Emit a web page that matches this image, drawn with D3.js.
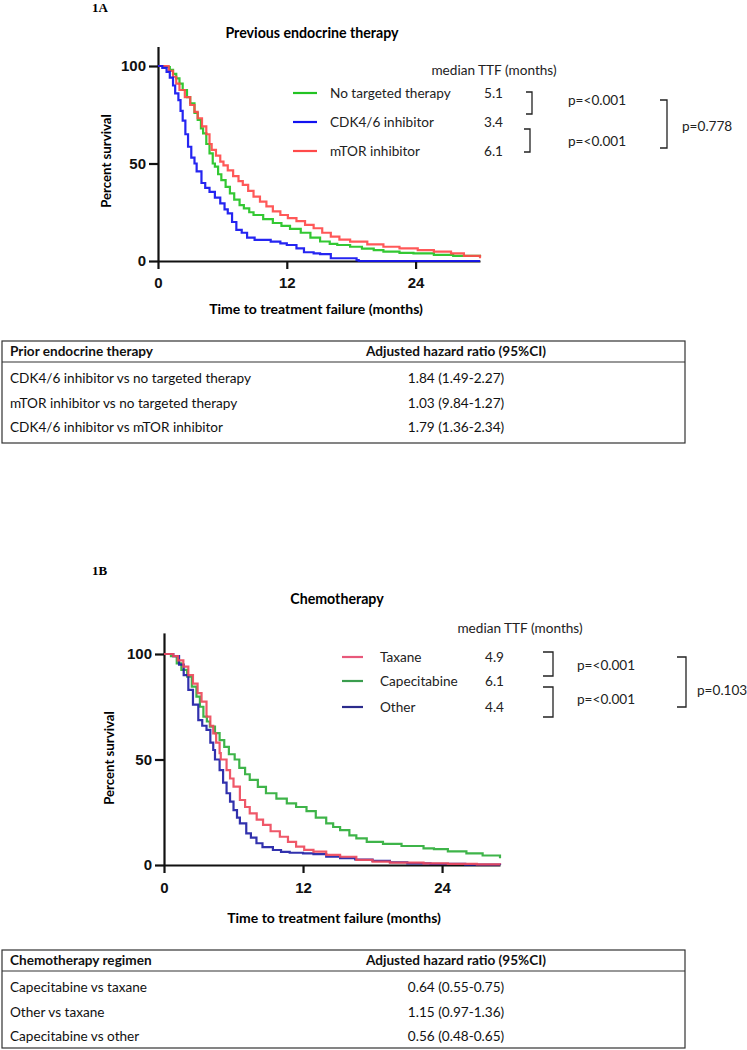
<!DOCTYPE html>
<html>
<head>
<meta charset="utf-8">
<script src="https://cdn.jsdelivr.net/npm/d3@7"></script>
<style>
  body { margin: 0; background: #fff; }
</style>
</head>
<body>
<svg id="fig" width="747" height="1050"></svg>
<script>
var monthTicks = [0, 12, 24];
var pctTicks = [0, 50, 100];

// 1A - time to treatment failure by previous endocrine therapy, [month, % survival]
var noTargeted = [[0,100],[0.5,99.5],[1.1,98],[1.4,96],[1.7,93.7],[2.0,91],[2.3,87.7],[2.7,84],[3.0,80.9],
  [3.4,76],[3.7,72.3],[4.0,68],[4.2,65.5],[4.5,60],[4.8,55.2],[5.1,50],[5.3,48.4],[5.6,44.5],[5.9,41.5],
  [6.3,38],[6.7,34.7],[7.1,31.5],[7.6,28.7],[8.0,27],[8.5,25],[8.9,23.6],[9.8,21.5],[10.7,19.5],[11.5,18],
  [12.3,16.5],[13.3,14.5],[14.2,12],[15.1,10],[16.0,8.8],[16.7,8.2],[17.9,7.3],[19,6.3],[20.1,5.6],[21,4.8],
  [22.5,4.2],[23.8,3.9],[25.7,3.1],[27.5,2.6],[30,2.2]];
var cdkInhibitor = [[0,100],[0.4,99],[0.8,97],[1.1,94],[1.4,90],[1.6,86],[1.9,82.5],[2.1,77],[2.3,72],
  [2.55,65],[2.8,58.6],[3.1,53],[3.4,50],[3.6,46],[4.05,40],[4.4,37.5],[4.8,35.5],[5.3,32.5],[5.8,29.6],
  [6.2,26.5],[6.5,24.4],[6.9,20],[7.3,16],[7.8,14.5],[8.3,12],[9.0,10.8],[10.5,9.9],[11.4,9],[12.0,8.2],
  [12.9,6.5],[13.6,4.5],[14.5,3.9],[15.1,3.5],[16.1,1.4],[18.5,0.5],[18.7,0],[30,0]];
var mtorInhibitor = [[0,100],[0.6,100],[1.0,97.5],[1.4,94.5],[1.7,91],[2.0,87.7],[2.5,84],[3.0,80],[3.4,76.5],
  [3.7,73.2],[4.1,69],[4.5,65],[4.8,60],[5.0,57],[5.4,54],[5.8,51],[6.1,49],[6.5,46.5],[7.0,43.5],[7.5,41],
  [7.9,39],[8.4,36],[8.9,33],[9.5,30.5],[10.1,28],[10.7,25.5],[11.4,23.6],[12.1,22],[12.9,20.5],[13.7,18.5],
  [14.5,16.8],[15.3,14.5],[16.1,12.5],[16.9,11],[17.9,9.9],[19.5,8.5],[21,7.3],[22.5,6.5],[24.2,5.6],
  [25.7,4.8],[27.3,3.9],[28.5,2.6],[30,1.4]];
var endoNames = ["No targeted therapy", "CDK4/6 inhibitor", "mTOR inhibitor"];
var endoMedians = ["5.1", "3.4", "6.1"];
var endoPvals = ["p=<0.001", "p=<0.001", "p=0.778"];
var endoHead = ["Prior endocrine therapy", "Adjusted hazard ratio (95%CI)"];
var endoRows = ["CDK4/6 inhibitor vs no targeted therapy", "mTOR inhibitor vs no targeted therapy",
  "CDK4/6 inhibitor vs mTOR inhibitor"];
var endoHR = ["1.84 (1.49-2.27)", "1.03 (9.84-1.27)", "1.79 (1.36-2.34)"];

// 1B - by chemotherapy regimen
var taxane = [[0,100],[0.8,99],[1.2,97],[1.67,94],[2.1,90],[2.5,86],[2.9,81.5],[3.24,77.4],[3.67,70.3],
  [4.0,66],[4.25,62.4],[4.5,58],[4.8,53],[4.9,50],[5.4,45],[5.7,41],[6.0,37.1],[6.55,30.8],[7.0,27.5],
  [7.4,24.5],[8.0,21.5],[8.55,19],[9.2,16],[10,13.4],[10.7,11],[11.4,8.7],[12.1,7.2],[12.9,6.3],[14,4.8],
  [15.2,3.9],[16.6,2.4],[18,1.6],[19.5,1.1],[22.4,0.8],[24.5,0.5],[27,0.3],[29,0.2]];
var capecitabine = [[0,100],[0.6,99],[1.1,95.6],[1.5,92.5],[2.0,89.3],[2.4,84.5],[2.8,79.8],[3.1,75],
  [3.4,70.3],[3.7,68],[3.96,65.6],[4.4,62.5],[4.8,59.2],[5.2,56],[5.6,52.5],[6.1,50],[6.5,46],[7.0,43],
  [7.4,40.3],[8.1,37],[8.8,34],[9.7,31.5],[10.6,29.2],[11.4,27.5],[12.3,25.5],[13.1,22.5],[14,19.7],
  [14.6,18],[15.2,16.5],[16,14],[16.6,12.6],[17.5,11],[18.9,10],[20.5,9],[22.4,7.9],[23.3,7.5],[24.5,6.5],
  [26.1,5.5],[27.5,4.5],[29,3.2]];
var otherChemo = [[0,100],[0.8,99],[1.3,95],[1.7,90],[2.1,83],[2.5,76],[2.96,68.7],[3.3,66],[3.67,64],
  [4.0,58],[4.25,54.5],[4.4,50],[4.8,45],[5.1,39],[5.4,34],[5.7,30],[6.0,26],[6.3,22.5],[6.55,19.7],
  [7.1,15],[7.5,13],[7.98,10.3],[8.5,8.5],[9.4,7.1],[10.1,6.2],[10.85,5.8],[12.0,5.5],[12.9,5.2],[14,3.9],
  [15.2,3.2],[16.5,2.6],[18,2],[19.5,1.3],[21,0.8],[23,0.5],[26,0.2],[29,0]];
var chemoNames = ["Taxane", "Capecitabine", "Other"];
var chemoMedians = ["4.9", "6.1", "4.4"];
var chemoPvals = ["p=<0.001", "p=<0.001", "p=0.103"];
var chemoHead = ["Chemotherapy regimen", "Adjusted hazard ratio (95%CI)"];
var chemoRows = ["Capecitabine vs taxane", "Other vs taxane", "Capecitabine vs other"];
var chemoHR = ["0.64 (0.55-0.75)", "1.15 (0.97-1.36)", "0.56 (0.48-0.65)"];

var svg = d3.select("#fig");
var txtFont = "Lato, 'Open Sans', sans-serif";
var numFont = "'Liberation Sans', Arial, sans-serif";

function panel(o) {
  var g = svg.append("g");

  g.append("text").text(o.tag)
    .attr("x", 92).attr("y", o.tagY)
    .attr("font-family", "'Liberation Serif', 'Times New Roman', serif")
    .attr("font-weight", "bold").attr("font-size", 13);

  g.append("text").text(o.title)
    .attr("x", o.titleX).attr("y", o.titleY)
    .attr("text-anchor", "middle").attr("dominant-baseline", "central")
    .attr("font-family", txtFont).attr("font-weight", "bold").attr("font-size", 14.2);

  var x = d3.scaleLinear().domain([0, o.xmax]).range([o.x0, o.x1]);
  var y = d3.scaleLinear().domain([0, 110]).range([o.y0, o.y1]);

  // axes first, curves sit on top of them
  var ax = g.append("g").attr("transform", `translate(0,${o.y0})`)
    .call(d3.axisBottom(x).tickValues(monthTicks).tickSize(8).tickSizeOuter(0).tickPadding(o.xpad));
  var ay = g.append("g").attr("transform", `translate(${o.x0},0)`)
    .call(d3.axisLeft(y).tickValues(pctTicks).tickSize(9).tickSizeOuter(0).tickPadding(3));
  [ax, ay].forEach(function(a) {
    a.selectAll("path, line").attr("stroke", "#111").attr("stroke-width", 2.2);
    a.selectAll("text").attr("font-family", numFont).attr("font-weight", "bold")
      .attr("font-size", 15).attr("fill", "#111");
  });

  g.append("text").text("Time to treatment failure (months)")
    .attr("x", o.xtitleX).attr("y", o.xtitleY)
    .attr("text-anchor", "middle").attr("dominant-baseline", "central")
    .attr("font-family", txtFont).attr("font-weight", "bold").attr("font-size", 14);

  g.append("text").text("Percent survival")
    .attr("transform", `translate(${o.ytitleX},${o.ytitleY}) rotate(-90)`)
    .attr("text-anchor", "middle").attr("dominant-baseline", "central")
    .attr("font-family", txtFont).attr("font-weight", "bold").attr("font-size", 13.2);

  var line = d3.line()
    .x(d => x(d[0]))
    .y(d => y(d[1]))
    .curve(d3.curveStepAfter);

  o.order.forEach(function(i) {
    g.append("path").datum(o.series[i])
      .attr("fill", "none")
      .attr("stroke", o.colors[i])
      .attr("stroke-width", 2.2)
      .attr("stroke-opacity", 0.92)
      .attr("d", line);
  });

  // legend with medians
  var lg = g.append("g").attr("font-family", txtFont).attr("font-size", 13.6).attr("fill", "#222");
  lg.append("text").text("median TTF (months)")
    .attr("x", o.lg.headX).attr("y", o.lg.headY)
    .attr("text-anchor", "middle").attr("dominant-baseline", "central");

  o.names.forEach(function(n, i) {
    var ry = o.lg.rows[i];
    lg.append("line")
      .attr("x1", o.lg.swX[0]).attr("x2", o.lg.swX[1])
      .attr("y1", ry).attr("y2", ry)
      .attr("stroke", o.swatch[i]).attr("stroke-width", 2.2);
    lg.append("text").text(n)
      .attr("x", o.lg.nameX).attr("y", ry).attr("dominant-baseline", "central");
    lg.append("text").text(o.medians[i])
      .attr("x", o.lg.valX).attr("y", ry).attr("dominant-baseline", "central");
  });

  // significance brackets
  o.brackets.forEach(function(b, i) {
    lg.append("path")
      .attr("d", `M${b[0]},${b[2]}H${b[1]}V${b[3]}H${b[0]}`)
      .attr("fill", "none").attr("stroke", "#222").attr("stroke-width", 1.3);
    lg.append("text").text(o.pvals[i])
      .attr("x", b[4]).attr("y", b[5]).attr("dominant-baseline", "central");
  });
}

function table(o) {
  var g = svg.append("g").attr("font-family", txtFont).attr("font-size", 13.6).attr("fill", "#111");
  g.append("rect")
    .attr("x", o.x0).attr("y", o.y0)
    .attr("width", o.x1 - o.x0).attr("height", o.y1 - o.y0)
    .attr("fill", "none").attr("stroke", "#333").attr("stroke-width", 1.2);
  g.append("line")
    .attr("x1", o.x0).attr("x2", o.x1).attr("y1", o.yDiv).attr("y2", o.yDiv)
    .attr("stroke", "#333").attr("stroke-width", 1.2);

  g.append("text").text(o.head[0])
    .attr("x", o.x0 + 8).attr("y", o.headY)
    .attr("dominant-baseline", "central").attr("font-weight", "bold");
  g.append("text").text(o.head[1])
    .attr("x", o.valX).attr("y", o.headY).attr("text-anchor", "middle")
    .attr("dominant-baseline", "central").attr("font-weight", "bold");

  var yRow = d3.scalePoint().domain(d3.range(o.rows.length)).range(o.rowY);
  o.rows.forEach(function(r, i) {
    g.append("text").text(r)
      .attr("x", o.x0 + 8).attr("y", yRow(i)).attr("dominant-baseline", "central");
    g.append("text").text(o.values[i])
      .attr("x", o.valX).attr("y", yRow(i)).attr("text-anchor", "middle")
      .attr("dominant-baseline", "central");
  });
}

panel({
  tag: "1A", tagY: 12,
  title: "Previous endocrine therapy", titleX: 312, titleY: 32,
  xmax: 30, x0: 158, x1: 480, y0: 261, y1: 46.5, xpad: 8,
  xtitleX: 316, xtitleY: 308, ytitleX: 106, ytitleY: 161,
  series: [noTargeted, cdkInhibitor, mtorInhibitor],
  colors: ["#22c322", "#1212f0", "#ff4a4a"],
  swatch: ["#22c322", "#1212f0", "#ff4a4a"],
  order: [0, 2, 1],
  names: endoNames, medians: endoMedians, pvals: endoPvals,
  lg: { headX: 494, headY: 70, rows: [93, 122, 151], swX: [293, 317], nameX: 330, valX: 484 },
  brackets: [[526, 532, 92, 114, 568, 100], [524, 530, 129, 152, 568, 141], [660, 667, 100, 148, 682, 126]]
});

panel({
  tag: "1B", tagY: 575,
  title: "Chemotherapy", titleX: 337, titleY: 598,
  xmax: 29, x0: 164, x1: 500, y0: 865, y1: 632.9, xpad: 9,
  xtitleX: 334, xtitleY: 917, ytitleX: 109, ytitleY: 758,
  series: [taxane, capecitabine, otherChemo],
  colors: ["#ee4a5c", "#2eae3a", "#2020a6"],
  swatch: ["#e8587a", "#3a9d4e", "#2b2b8c"],
  order: [1, 2, 0],
  names: chemoNames, medians: chemoMedians, pvals: chemoPvals,
  lg: { headX: 520, headY: 628, rows: [657, 681, 707], swX: [342, 363], nameX: 380, valX: 485 },
  brackets: [[543, 553, 652, 676, 577, 665], [543, 553, 687, 717, 577, 699], [677, 686, 657, 707, 697, 690]]
});

table({
  x0: 2, x1: 685, y0: 341, y1: 443, yDiv: 362, headY: 351, valX: 456,
  rowY: [378, 427],
  head: endoHead, rows: endoRows, values: endoHR
});

table({
  x0: 2, x1: 685, y0: 950, y1: 1048, yDiv: 971, headY: 960, valX: 456,
  rowY: [987, 1036],
  head: chemoHead, rows: chemoRows, values: chemoHR
});
</script>
</body>
</html>
